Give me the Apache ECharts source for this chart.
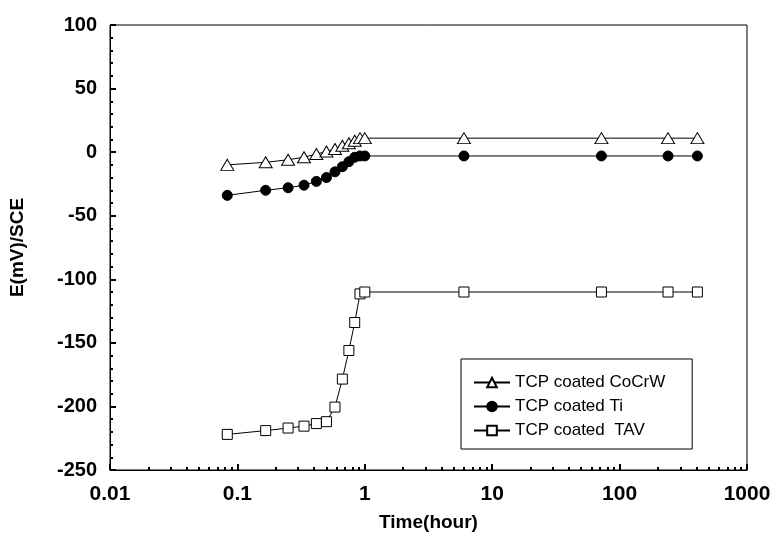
<!DOCTYPE html>
<html>
<head>
<meta charset="utf-8">
<script src="https://cdn.jsdelivr.net/npm/echarts@6/dist/echarts.min.js"></script>
<style>
html,body{margin:0;padding:0;background:#fff;}
#chart{width:776px;height:541px;}
</style>
</head>
<body>
<div id="chart"></div>
<script>
// Time in hours
const timeHours = [0.0833, 0.1667, 0.25, 0.3333, 0.4167, 0.5, 0.5833, 0.6667, 0.75, 0.8333, 0.9167, 1, 6, 72, 240, 408];
// E (mV) vs SCE
const cocrw = [-10, -8, -6, -4, -1.5, 0.5, 2.5, 5, 7, 9, 11, 11, 11, 11, 11, 11];
const ti = [-34, -30, -28, -26, -23, -20, -15.5, -11.5, -7.5, -4, -3, -3, -3, -3, -3, -3];
const tav = [-222, -219, -217, -215.5, -213.5, -212, -200.5, -178.5, -156, -134, -111.5, -110, -110, -110, -110, -110];
const seriesNames = ['TCP coated CoCrW', 'TCP coated Ti', 'TCP coated  TAV'];
const xMajorTicks = [0.01, 0.1, 1, 10, 100, 1000];
const xMinorTicks = [];
for (let d = 0.01; d < 1000; d *= 10) {
  for (let k = 2; k <= 9; k++) xMinorTicks.push(+(k * d).toPrecision(3));
}

function pairs(ys) { return timeHours.map((t, i) => [t, ys[i]]); }

const chart = echarts.init(document.getElementById('chart'), null, {renderer: 'canvas'});
const FF = 'Liberation Sans, Arial, sans-serif';
const baseSeries = {
  type: 'line', xAxisIndex: 0, yAxisIndex: 0,
  lineStyle: {color: '#000', width: 1},
  animation: false
};
chart.setOption({
  animation: false,
  backgroundColor: '#fff',
  grid: {left: 110, right: 29, top: 25, bottom: 71, show: true, borderColor: '#000', borderWidth: 1, backgroundColor: 'transparent'},
  legend: {
    orient: 'vertical', left: 461, top: 359,
    padding: [15, 27, 10, 12],
    borderColor: '#000', borderWidth: 1,
    itemWidth: 36, itemHeight: 12, itemGap: 7,
    textStyle: {fontFamily: FF, fontSize: 17, color: '#000'},
    data: seriesNames
  },
  xAxis: [{
    type: 'log', logBase: 10, min: 0.01, max: 1000,
    name: 'Time(hour)', nameLocation: 'middle', nameGap: 43,
    nameTextStyle: {fontFamily: FF, fontWeight: 'bold', fontSize: 19, color: '#000'},
    axisLine: {show: true, onZero: false, lineStyle: {color: '#000', width: 1}},
    axisTick: {show: true, inside: true, length: 6, lineStyle: {color: '#000', width: 2}, customValues: xMajorTicks},
    axisLabel: {margin: 14, customValues: xMajorTicks, formatter: v => String(v),
      fontFamily: FF, fontWeight: 'bold', fontSize: 21, color: '#000'},
    splitLine: {show: false}
  }, {
    type: 'log', logBase: 10, min: 0.01, max: 1000, position: 'bottom',
    axisLine: {show: false, onZero: false},
    axisTick: {show: true, inside: true, length: 3, lineStyle: {color: '#000', width: 2}, customValues: xMinorTicks},
    axisLabel: {show: false},
    splitLine: {show: false}
  }],
  yAxis: {
    type: 'value', min: -250, max: 100, interval: 50,
    name: 'E(mV)/SCE', nameLocation: 'middle', nameGap: 83, nameRotate: 90,
    nameTextStyle: {fontFamily: FF, fontWeight: 'bold', fontSize: 19, color: '#000'},
    axisLine: {show: true, onZero: false, lineStyle: {color: '#000', width: 1}},
    axisTick: {show: true, inside: true, length: 6, lineStyle: {color: '#000', width: 2}},
    minorTick: {show: true, splitNumber: 5, length: 3, lineStyle: {color: '#000', width: 2}},
    axisLabel: {margin: 13, fontFamily: FF, fontWeight: 'bold', fontSize: 20, color: '#000'},
    splitLine: {show: false},
    minorSplitLine: {show: false}
  },
  series: [
    Object.assign({}, baseSeries, {
      name: seriesNames[0], data: pairs(cocrw), z: 3,
      symbol: 'triangle', symbolSize: [13, 11],
      itemStyle: {color: '#fff', borderColor: '#000', borderWidth: 1}
    }),
    Object.assign({}, baseSeries, {
      name: seriesNames[1], data: pairs(ti), z: 2,
      symbol: 'circle', symbolSize: 10,
      itemStyle: {color: '#000', borderColor: '#000', borderWidth: 1}
    }),
    Object.assign({}, baseSeries, {
      name: seriesNames[2], data: pairs(tav), z: 2,
      symbol: 'rect', symbolSize: 10,
      itemStyle: {color: '#fff', borderColor: '#000', borderWidth: 1}
    })
  ]
});
</script>
</body>
</html>
